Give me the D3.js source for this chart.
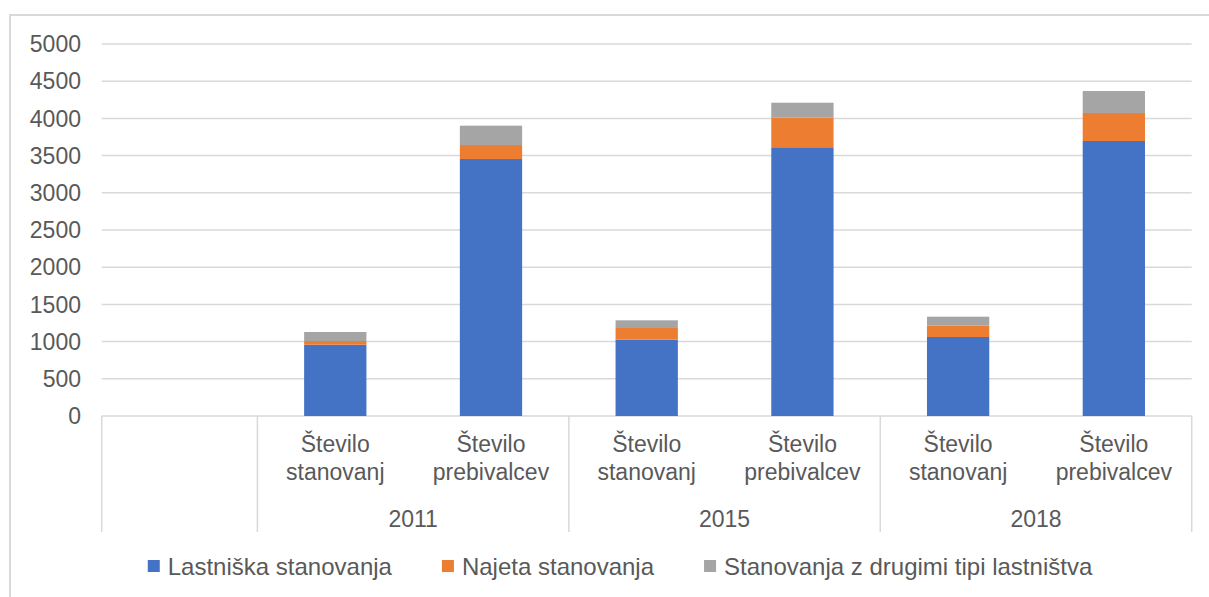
<!DOCTYPE html>
<html>
<head>
<meta charset="utf-8">
<script src="https://cdn.jsdelivr.net/npm/d3@7"></script>
<style>
  body { margin: 0; background: #fff; }
  svg text { font-family: "Liberation Sans", Arial, sans-serif; fill: #595959; }
</style>
</head>
<body>
<div id="chart"></div>
<script>
// data
var categories = ["", "Število stanovanj", "Število prebivalcev", "Število stanovanj", "Število prebivalcev", "Število stanovanj", "Število prebivalcev"];
var years = ["", "2011", "2011", "2015", "2015", "2018", "2018"];
var lastniska = [0, 958, 3454, 1026, 3612, 1062, 3696];
var najeta = [0, 50, 188, 157, 397, 152, 377];
var drugi = [0, 121, 260, 103, 202, 121, 295];
var seriesNames = ["Lastniška stanovanja", "Najeta stanovanja", "Stanovanja z drugimi tipi lastništva"];
var yTicks = d3.range(0, 5001, 500);

var width = 1209, height = 597;
var colors = ["#4472C4", "#ED7D31", "#A5A5A5"];
var gridColor = "#d9d9d9";

var plot = {left: 101.7, right: 1191.7, top: 44, bottom: 416, axisBottom: 532};

var svg = d3.select("#chart").append("svg")
  .attr("width", width)
  .attr("height", height);

// chart border (runs off the right and bottom edge)
svg.append("rect")
  .attr("x", 10).attr("y", 15)
  .attr("width", 1220).attr("height", 620)
  .attr("fill", "none")
  .attr("stroke", gridColor)
  .attr("stroke-width", 2);

var rows = categories.map(function(c, i) {
  return {i: i, a: lastniska[i], b: najeta[i], c: drugi[i]};
});

var stack = d3.stack().keys(["a", "b", "c"]);
var stacked = stack(rows);

var x = d3.scaleBand()
  .domain(d3.range(categories.length))
  .range([plot.left, plot.right])
  .paddingInner(0.6)
  .paddingOuter(0.3);

var slot = d3.scaleBand()
  .domain(d3.range(categories.length))
  .range([plot.left, plot.right]);

var y = d3.scaleLinear()
  .domain([0, 5000])
  .range([plot.bottom, plot.top]);

// gridlines
svg.append("g")
  .selectAll("line")
  .data(yTicks)
  .enter().append("line")
  .attr("x1", plot.left).attr("x2", plot.right)
  .attr("y1", function(d) { return y(d); })
  .attr("y2", function(d) { return y(d); })
  .attr("stroke", gridColor)
  .attr("stroke-width", 1.5);

// y labels
svg.append("g")
  .selectAll("text")
  .data(yTicks)
  .enter().append("text")
  .attr("x", 81)
  .attr("y", function(d) { return y(d); })
  .attr("dy", "0.36em")
  .attr("text-anchor", "end")
  .style("font-size", "23px")
  .text(function(d) { return d; });

// bars
svg.append("g")
  .selectAll("g")
  .data(stacked)
  .enter().append("g")
  .attr("fill", function(d, i) { return colors[i]; })
  .selectAll("rect")
  .data(function(d) { return d; })
  .enter().append("rect")
  .attr("x", function(d) { return x(d.data.i); })
  .attr("width", x.bandwidth())
  .attr("y", function(d) { return y(d[1]); })
  .attr("height", function(d) { return y(d[0]) - y(d[1]); });

// category axis: dividers at group boundaries
var dividers = [0];
for (var i = 1; i < years.length; i++) {
  if (years[i] !== years[i - 1]) dividers.push(i);
}
svg.append("g")
  .selectAll("line")
  .data(dividers.concat([categories.length]))
  .enter().append("line")
  .attr("x1", function(d) { return d < categories.length ? slot(d) : plot.right; })
  .attr("x2", function(d) { return d < categories.length ? slot(d) : plot.right; })
  .attr("y1", plot.bottom)
  .attr("y2", plot.axisBottom)
  .attr("stroke", gridColor)
  .attr("stroke-width", 1.5);

// category labels (two lines)
var catLabels = svg.append("g")
  .selectAll("text")
  .data(categories)
  .enter().append("text")
  .attr("text-anchor", "middle")
  .style("font-size", "23px");

catLabels.each(function(d, i) {
  var words = d.split(" ");
  var cx = slot(i) + slot.bandwidth() / 2;
  d3.select(this).selectAll("tspan")
    .data(d ? words : [])
    .enter().append("tspan")
    .attr("x", cx)
    .attr("y", function(w, k) { return 452 + k * 28; })
    .text(function(w) { return w; });
});

// year labels
var yearGroups = d3.groups(years.map(function(yv, i) { return {y: yv, i: i}; }), function(d) { return d.y; })
  .filter(function(g) { return g[0] !== ""; });
svg.append("g")
  .selectAll("text")
  .data(yearGroups)
  .enter().append("text")
  .attr("x", function(g) {
    var first = g[1][0].i, last = g[1][g[1].length - 1].i;
    return (slot(first) + slot(last) + slot.bandwidth()) / 2;
  })
  .attr("y", 527)
  .attr("text-anchor", "middle")
  .style("font-size", "23px")
  .text(function(g) { return g[0]; });

// legend, centred
var legend = svg.append("g");
var items = legend.selectAll("g")
  .data(seriesNames)
  .enter().append("g");
items.append("rect")
  .attr("width", 12).attr("height", 12)
  .attr("y", -6)
  .attr("fill", function(d, i) { return colors[i]; });
items.append("text")
  .attr("x", 20)
  .attr("dy", "0.36em")
  .style("font-size", "24px")
  .text(function(d) { return d; });

var offset = 0;
items.each(function() {
  var w = 20 + this.querySelector("text").getComputedTextLength();
  d3.select(this).attr("transform", "translate(" + offset + ",0)");
  offset += w + 50;
});
var legendWidth = offset - 50;
legend.attr("transform", "translate(" + (620 - legendWidth / 2) + ",566)");
</script>
</body>
</html>
